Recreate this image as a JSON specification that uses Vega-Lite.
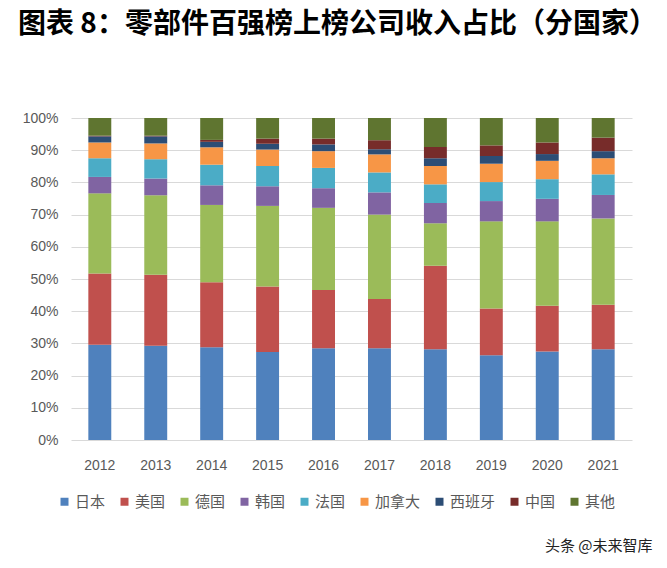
{
  "$schema": "https://vega.github.io/schema/vega-lite/v6.json",
  "autosize": {"type": "none"},
  "width": 561,
  "height": 322,
  "padding": {"left": 71, "top": 118, "right": 35, "bottom": 128},
  "background": "white",
  "title": {
    "text": "图表 8：零部件百强榜上榜公司收入占比（分国家）",
    "anchor": "start",
    "frame": "group",
    "dx": -53,
    "offset": 58,
    "baseline": "middle",
    "font": "Noto Sans CJK SC",
    "fontSize": 28,
    "fontWeight": "bold",
    "color": "#000000"
  },
  "data": {
    "values": [
      {"year": "2012", "country": "日本", "k": 1, "share": 29.6},
      {"year": "2012", "country": "美国", "k": 2, "share": 22.1},
      {"year": "2012", "country": "德国", "k": 3, "share": 24.9},
      {"year": "2012", "country": "韩国", "k": 4, "share": 5.1},
      {"year": "2012", "country": "法国", "k": 5, "share": 5.8},
      {"year": "2012", "country": "加拿大", "k": 6, "share": 4.9},
      {"year": "2012", "country": "西班牙", "k": 7, "share": 1.9},
      {"year": "2012", "country": "中国", "k": 8, "share": 0.2},
      {"year": "2012", "country": "其他", "k": 9, "share": 5.5},
      {"year": "2013", "country": "日本", "k": 1, "share": 29.3},
      {"year": "2013", "country": "美国", "k": 2, "share": 22.0},
      {"year": "2013", "country": "德国", "k": 3, "share": 24.7},
      {"year": "2013", "country": "韩国", "k": 4, "share": 5.2},
      {"year": "2013", "country": "法国", "k": 5, "share": 6.0},
      {"year": "2013", "country": "加拿大", "k": 6, "share": 4.9},
      {"year": "2013", "country": "西班牙", "k": 7, "share": 2.2},
      {"year": "2013", "country": "中国", "k": 8, "share": 0.2},
      {"year": "2013", "country": "其他", "k": 9, "share": 5.5},
      {"year": "2014", "country": "日本", "k": 1, "share": 28.8},
      {"year": "2014", "country": "美国", "k": 2, "share": 20.2},
      {"year": "2014", "country": "德国", "k": 3, "share": 24.0},
      {"year": "2014", "country": "韩国", "k": 4, "share": 6.1},
      {"year": "2014", "country": "法国", "k": 5, "share": 6.4},
      {"year": "2014", "country": "加拿大", "k": 6, "share": 5.4},
      {"year": "2014", "country": "西班牙", "k": 7, "share": 1.7},
      {"year": "2014", "country": "中国", "k": 8, "share": 0.6},
      {"year": "2014", "country": "其他", "k": 9, "share": 6.8},
      {"year": "2015", "country": "日本", "k": 1, "share": 27.3},
      {"year": "2015", "country": "美国", "k": 2, "share": 20.4},
      {"year": "2015", "country": "德国", "k": 3, "share": 25.0},
      {"year": "2015", "country": "韩国", "k": 4, "share": 6.1},
      {"year": "2015", "country": "法国", "k": 5, "share": 6.3},
      {"year": "2015", "country": "加拿大", "k": 6, "share": 5.1},
      {"year": "2015", "country": "西班牙", "k": 7, "share": 1.8},
      {"year": "2015", "country": "中国", "k": 8, "share": 1.6},
      {"year": "2015", "country": "其他", "k": 9, "share": 6.4},
      {"year": "2016", "country": "日本", "k": 1, "share": 28.5},
      {"year": "2016", "country": "美国", "k": 2, "share": 18.1},
      {"year": "2016", "country": "德国", "k": 3, "share": 25.5},
      {"year": "2016", "country": "韩国", "k": 4, "share": 6.1},
      {"year": "2016", "country": "法国", "k": 5, "share": 6.3},
      {"year": "2016", "country": "加拿大", "k": 6, "share": 5.2},
      {"year": "2016", "country": "西班牙", "k": 7, "share": 2.1},
      {"year": "2016", "country": "中国", "k": 8, "share": 1.8},
      {"year": "2016", "country": "其他", "k": 9, "share": 6.4},
      {"year": "2017", "country": "日本", "k": 1, "share": 28.5},
      {"year": "2017", "country": "美国", "k": 2, "share": 15.3},
      {"year": "2017", "country": "德国", "k": 3, "share": 26.2},
      {"year": "2017", "country": "韩国", "k": 4, "share": 6.9},
      {"year": "2017", "country": "法国", "k": 5, "share": 6.2},
      {"year": "2017", "country": "加拿大", "k": 6, "share": 5.6},
      {"year": "2017", "country": "西班牙", "k": 7, "share": 1.6},
      {"year": "2017", "country": "中国", "k": 8, "share": 2.8},
      {"year": "2017", "country": "其他", "k": 9, "share": 6.9},
      {"year": "2018", "country": "日本", "k": 1, "share": 28.2},
      {"year": "2018", "country": "美国", "k": 2, "share": 25.9},
      {"year": "2018", "country": "德国", "k": 3, "share": 13.2},
      {"year": "2018", "country": "韩国", "k": 4, "share": 6.3},
      {"year": "2018", "country": "法国", "k": 5, "share": 5.8},
      {"year": "2018", "country": "加拿大", "k": 6, "share": 5.7},
      {"year": "2018", "country": "西班牙", "k": 7, "share": 2.4},
      {"year": "2018", "country": "中国", "k": 8, "share": 3.5},
      {"year": "2018", "country": "其他", "k": 9, "share": 9.0},
      {"year": "2019", "country": "日本", "k": 1, "share": 26.3},
      {"year": "2019", "country": "美国", "k": 2, "share": 14.5},
      {"year": "2019", "country": "德国", "k": 3, "share": 27.1},
      {"year": "2019", "country": "韩国", "k": 4, "share": 6.3},
      {"year": "2019", "country": "法国", "k": 5, "share": 5.9},
      {"year": "2019", "country": "加拿大", "k": 6, "share": 5.7},
      {"year": "2019", "country": "西班牙", "k": 7, "share": 2.4},
      {"year": "2019", "country": "中国", "k": 8, "share": 3.3},
      {"year": "2019", "country": "其他", "k": 9, "share": 8.5},
      {"year": "2020", "country": "日本", "k": 1, "share": 27.5},
      {"year": "2020", "country": "美国", "k": 2, "share": 14.2},
      {"year": "2020", "country": "德国", "k": 3, "share": 26.2},
      {"year": "2020", "country": "韩国", "k": 4, "share": 7.0},
      {"year": "2020", "country": "法国", "k": 5, "share": 6.1},
      {"year": "2020", "country": "加拿大", "k": 6, "share": 5.7},
      {"year": "2020", "country": "西班牙", "k": 7, "share": 2.1},
      {"year": "2020", "country": "中国", "k": 8, "share": 3.6},
      {"year": "2020", "country": "其他", "k": 9, "share": 7.6},
      {"year": "2021", "country": "日本", "k": 1, "share": 28.2},
      {"year": "2021", "country": "美国", "k": 2, "share": 13.8},
      {"year": "2021", "country": "德国", "k": 3, "share": 26.8},
      {"year": "2021", "country": "韩国", "k": 4, "share": 7.3},
      {"year": "2021", "country": "法国", "k": 5, "share": 6.4},
      {"year": "2021", "country": "加拿大", "k": 6, "share": 5.0},
      {"year": "2021", "country": "西班牙", "k": 7, "share": 2.2},
      {"year": "2021", "country": "中国", "k": 8, "share": 4.2},
      {"year": "2021", "country": "其他", "k": 9, "share": 6.1}
    ]
  },
  "mark": {"type": "bar"},
  "encoding": {
    "x": {
      "field": "year",
      "type": "ordinal",
      "scale": {"paddingInner": 0.59, "paddingOuter": 0.31},
      "axis": {
        "title": "头条 @未来智库",
        "titleAnchor": "end",
        "titleAlign": "right",
        "titleX": 581,
        "titleY": 105,
        "titleBaseline": "middle",
        "titleFont": "Noto Sans CJK SC",
        "titleFontSize": 15,
        "titleFontWeight": "normal",
        "titleColor": "#222222",
        "labelAngle": 0,
        "labelFont": "Liberation Sans",
        "labelFontSize": 14,
        "labelColor": "#595959",
        "labelPadding": 18,
        "ticks": false,
        "domain": false
      }
    },
    "y": {
      "field": "share",
      "type": "quantitative",
      "stack": "zero",
      "scale": {"domain": [0, 100], "nice": false},
      "axis": {
        "title": null,
        "values": [0, 10, 20, 30, 40, 50, 60, 70, 80, 90, 100],
        "labelExpr": "datum.value + '%'",
        "labelFont": "Liberation Sans",
        "labelFontSize": 14,
        "labelColor": "#595959",
        "labelPadding": 13,
        "ticks": false,
        "domain": false,
        "grid": true,
        "gridColor": "#d9d9d9",
        "gridWidth": 1.2
      }
    },
    "color": {
      "field": "country",
      "type": "nominal",
      "sort": ["日本", "美国", "德国", "韩国", "法国", "加拿大", "西班牙", "中国", "其他"],
      "scale": {
        "domain": ["日本", "美国", "德国", "韩国", "法国", "加拿大", "西班牙", "中国", "其他"],
        "range": ["#4F81BD", "#C0504D", "#9BBB59", "#8064A2", "#4BACC6", "#F79646", "#2C4D75", "#772C2A", "#5F7530"]
      },
      "legend": {
        "title": null,
        "orient": "none",
        "direction": "horizontal",
        "legendX": -14,
        "legendY": 376,
        "symbolType": "square",
        "symbolSize": 64,
        "symbolStrokeWidth": 0,
        "symbolOffset": 0,
        "labelOffset": 3,
        "columnPadding": 11,
        "labelFont": "Noto Sans CJK SC",
        "labelFontSize": 15,
        "labelColor": "#595959"
      }
    },
    "order": {"field": "k", "type": "quantitative", "sort": "ascending"}
  },
  "config": {"view": {"stroke": null}}
}
